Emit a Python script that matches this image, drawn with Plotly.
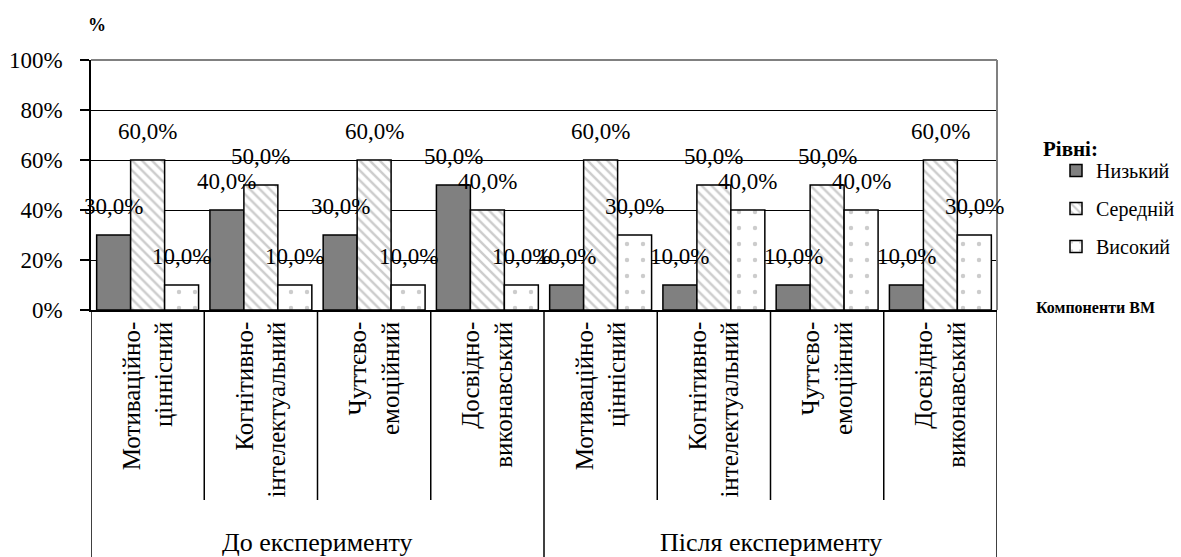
import plotly.graph_objects as go

# ---- data ----
groups = ["До експерименту", "Після експерименту"]
components = ["Мотиваційно-<br>ціннісний", "Когнітивно-<br>інтелектуальний",
              "Чуттєво-<br>емоційний", "Досвідно-<br>виконавський"]
categories = components + components
levels = ["Низький", "Середній", "Високий"]
low = [30, 40, 30, 50, 10, 10, 10, 10]
mid = [60, 50, 60, 40, 60, 50, 50, 60]
high = [10, 10, 10, 10, 30, 40, 40, 30]
series = [low, mid, high]
y_ticks = [0, 20, 40, 60, 80, 100]
y_tick_text = ["0%", "20%", "40%", "60%", "80%", "100%"]

FONT = "'Liberation Serif', 'DejaVu Serif', serif"
W, H = 1181, 557
ML, MR, MT, MB = 91, 184, 60, 247
PW, PH = W - ML - MR, H - MT - MB


def py(ypx):
    return (H - MB - ypx) / PH


def pxx(xpx):
    return (xpx - ML) / PW


styles = [
    dict(color="#808080", line=dict(color="black", width=1.5)),
    dict(color="white", line=dict(color="black", width=1.5),
         pattern=dict(shape="\\", fgcolor="#9a9a9a", bgcolor="white", size=7, solidity=0.35)),
    dict(color="white", line=dict(color="black", width=1.5),
         pattern=dict(shape=".", fgcolor="#9a9a9a", bgcolor="white", size=16, solidity=0.06)),
]

xs = list(range(len(categories)))
fig = go.Figure()
for k, (name, vals) in enumerate(zip(levels, series)):
    fig.add_trace(go.Bar(x=xs, y=vals, name=name, marker=styles[k],
                         legendgroup=name, hoverinfo="skip"))

bargap = 0.1
bw = (1 - bargap) / 3
annotations = []
for k, vals in enumerate(series):
    for i, v in enumerate(vals):
        annotations.append(dict(
            x=i + (k - 1) * bw, y=v, xref="x", yref="y",
            text=f"{v:.1f}".replace(".", ",") + "%", showarrow=False,
            yshift=29, yanchor="middle", font=dict(family=FONT, size=23, color="black")))

for g, name in enumerate(groups):
    annotations.append(dict(x=g * 4 + 1.5, y=py(542), xref="x", yref="paper",
                            text=name, showarrow=False, yanchor="middle",
                            font=dict(family=FONT, size=26, color="black")))

annotations += [
    dict(x=pxx(97), y=py(25), xref="paper", yref="paper", text="<b>%</b>", showarrow=False,
         xanchor="center", yanchor="middle", font=dict(family=FONT, size=18, color="black")),
    dict(x=pxx(1070), y=py(149), xref="paper", yref="paper", text="<b>Рівні:</b>", showarrow=False,
         xanchor="center", yanchor="middle", font=dict(family=FONT, size=21, color="black")),
    dict(x=pxx(1095), y=py(307), xref="paper", yref="paper", text="<b>Компоненти ВМ</b>",
         showarrow=False, xanchor="center", yanchor="middle",
         font=dict(family=FONT, size=16, color="black")),
]

shapes = [
    dict(type="line", xref="paper", yref="paper", x0=0, x1=1, y0=1, y1=1,
         line=dict(color="#808080", width=2), layer="above"),
    dict(type="line", xref="paper", yref="paper", x0=1, x1=1, y0=0, y1=1,
         line=dict(color="#808080", width=2), layer="above"),
]
for b in range(len(categories) + 1):
    x = b - 0.5
    full = (b % 4 == 0)
    shapes.append(dict(type="line", xref="x", yref="paper", x0=x, x1=x,
                       y0=0, y1=py(560) if full else py(500),
                       line=dict(color="black", width=1.5)))

fig.update_layout(
    width=W, height=H,
    margin=dict(l=ML, r=MR, t=MT, b=MB, pad=0, autoexpand=False),
    plot_bgcolor="white", paper_bgcolor="white",
    barmode="group", bargap=bargap, bargroupgap=0,
    font=dict(family=FONT, color="black"),
    annotations=annotations, shapes=shapes,
    legend=dict(x=pxx(1056), y=py(151), xanchor="left", yanchor="top",
                font=dict(family=FONT, size=20, color="black"),
                tracegroupgap=9, itemwidth=30, bgcolor="rgba(0,0,0,0)"),
    xaxis=dict(range=[-0.5, len(categories) - 0.5], tickvals=xs, ticktext=categories,
               tickangle=-90, ticks="", showline=True, linecolor="black", linewidth=1.5,
               showgrid=False, zeroline=False, automargin=False,
               tickfont=dict(family=FONT, size=25, color="black")),
    yaxis=dict(range=[0, 100], tickvals=y_ticks, ticktext=y_tick_text, ticks="outside",
               ticklen=9, tickwidth=1.5, tickcolor="black", showline=True, linecolor="black",
               linewidth=1.5, gridcolor="black", gridwidth=1.2, zeroline=False,
               ticklabelstandoff=13, automargin=False,
               tickfont=dict(family=FONT, size=23, color="black")),
)

fig.write_html("out.html", config={"displayModeBar": False},
               post_script="document.body.style.margin='0';document.body.style.padding='0';")
